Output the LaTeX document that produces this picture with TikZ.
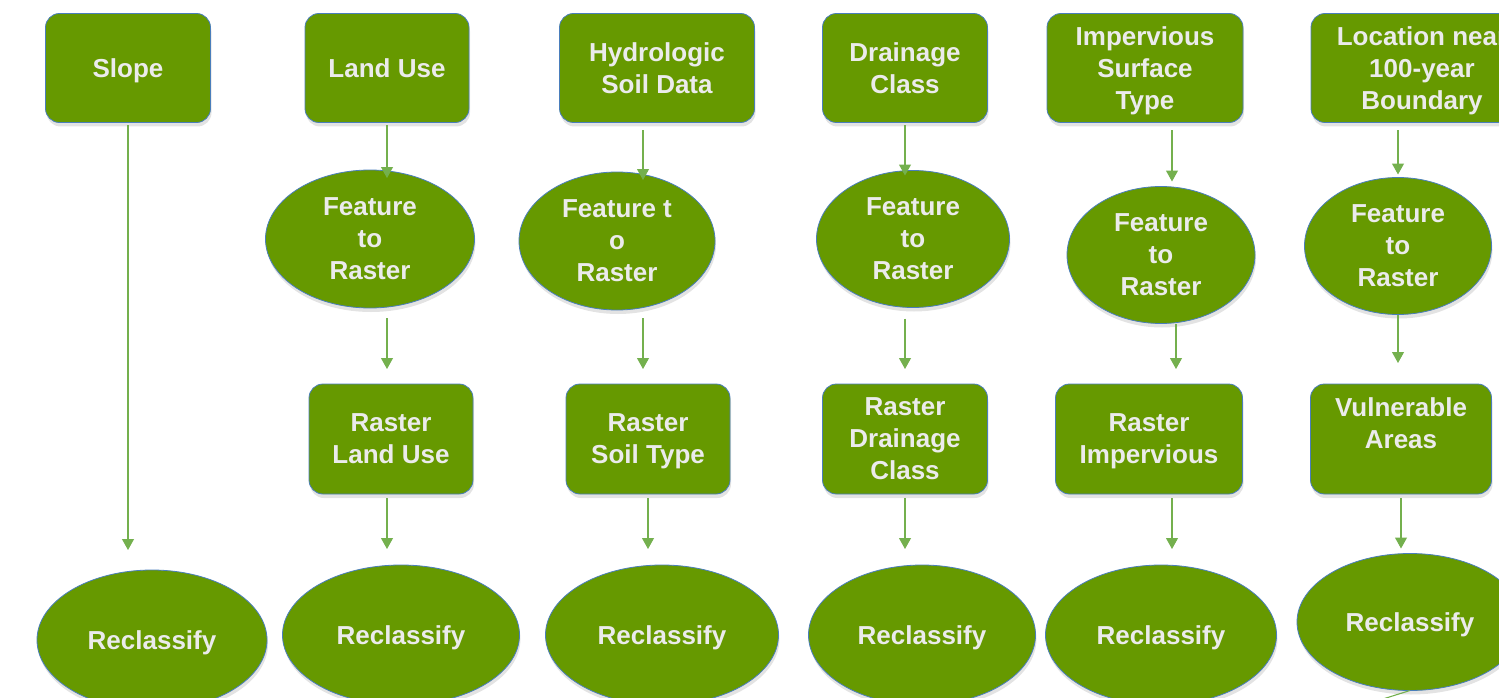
\documentclass[tikz,border=0pt]{standalone}
\usepackage{fontspec}
\setmainfont{Liberation Sans}
\usepackage{xcolor}
\usepackage{tikz}
\usetikzlibrary{shapes.geometric,shadows,arrows.meta,calc}

\definecolor{leaf}{HTML}{669900}
\definecolor{rim}{HTML}{4A7EBB}
\definecolor{pale}{HTML}{EBEBEB}
\definecolor{stem}{HTML}{74B04E}

\begin{document}
\begin{tikzpicture}[x=1pt,y=-1pt]
  \tikzstyle{base} = [draw=rim,line width=0.8pt,fill=leaf,inner sep=0pt,outer sep=0pt,align=center,text=pale,
                      font=\fontsize{26}{32}\selectfont\bfseries,text depth=0pt,
                      drop shadow={opacity=0.22,shadow xshift=1pt,shadow yshift=-4pt}]
  \tikzstyle{block} = [base,rounded corners=14pt,minimum height=109pt]
  \tikzstyle{oval} = [base,shape=ellipse]
  \tikzstyle{flow} = [draw=stem,line width=1.1pt,-{Triangle[width=12pt,length=11pt]}]
  %
  \useasboundingbox (0,0) rectangle (1499,698);
  \clip (0,0) rectangle (1499,698);
  % First row: input layers.
  \node[block,minimum width=165pt] (slope) at (128,68) {Slope};
  \node[block,minimum width=164pt] (lu) at (387,68) {Land Use};
  \node[block,minimum width=195pt] (hyd) at (657,68) {Hydrologic\\Soil Data};
  \node[block,minimum width=165pt] (dr) at (905,68) {Drainage\\Class};
  \node[block,minimum width=196pt] (imp) at (1145,68) {Impervious\\Surface\\Type};
  \node[block,minimum width=222pt] (loc) at (1422,68) {Location near\\100-year\\Boundary};
  % Second row: conversions.
  \node[oval,minimum width=209pt,minimum height=138pt] (luf) at (370,239) {Feature\\to\\Raster};
  \node[oval,minimum width=196pt,minimum height=138pt] (hyf) at (617,241) {Feature t\\o\\Raster};
  \node[oval,minimum width=193pt,minimum height=137pt] (drf) at (913,239) {Feature\\to\\Raster};
  \node[oval,minimum width=188pt,minimum height=137pt] (imf) at (1161,255) {Feature\\to\\Raster};
  \node[oval,minimum width=187pt,minimum height=137pt] (lof) at (1398,246) {Feature\\to\\Raster};
  % Third row: rasters.
  \node[block,minimum width=164pt,minimum height=110pt] (rlu) at (391,439) {Raster\\Land Use};
  \node[block,minimum width=164pt,minimum height=110pt] (rsoil) at (648,439) {Raster\\Soil Type};
  \node[block,minimum width=165pt,minimum height=110pt] (rdr) at (905,439) {Raster\\Drainage\\Class};
  \node[block,minimum width=187pt,minimum height=110pt] (rimp) at (1149,439) {Raster\\Impervious};
  \node[block,minimum width=181pt,minimum height=110pt] (vul) at (1401,439) {Vulnerable\\Areas\\\phantom{A}};
  % Fourth row: reclassify.
  \node[oval,minimum width=230pt,minimum height=140pt] (rc1) at (152,640) {Reclassify};
  \node[oval,minimum width=237pt,minimum height=140pt] (rc2) at (401,635) {Reclassify};
  \node[oval,minimum width=233pt,minimum height=140pt] (rc3) at (662,635) {Reclassify};
  \node[oval,minimum width=227pt,minimum height=140pt] (rc4) at (922,635) {Reclassify};
  \node[oval,minimum width=231pt,minimum height=140pt] (rc5) at (1161,635) {Reclassify};
  \node[oval,minimum width=226pt,minimum height=137pt] (rc6) at (1410,622) {Reclassify};
  % Arrow columns.
  \coordinate (hx) at (643,0);
  \coordinate (ix) at (1172,0);
  \coordinate (ix2) at (1176,0);
  \coordinate (off) at (1300,725);
  % Slope.
  \draw[flow,shorten <=3pt,shorten >=20pt] (slope.south) -- (slope.south |- rc1.north);
  % Land use.
  \draw[flow,shorten <=3pt,shorten >=-8pt] (lu.south) -- (lu.south |- luf.north);
  \draw[flow,shorten <=10pt,shorten >=15pt] (lu.south |- luf.south) -- (lu.south |- rlu.north);
  \draw[flow,shorten <=4pt,shorten >=16pt] (lu.south |- rlu.south) -- (lu.south |- rc2.north);
  % Soil.
  \draw[flow,shorten <=8pt,shorten >=-8pt] (hx |- hyd.south) -- (hx |- hyf.north);
  \draw[flow,shorten <=8pt,shorten >=15pt] (hx |- hyf.south) -- (hx |- rsoil.north);
  \draw[flow,shorten <=4pt,shorten >=16pt] (rsoil.south) -- (rsoil.south |- rc3.north);
  % Drainage.
  \draw[flow,shorten <=3pt,shorten >=-5pt] (dr.south) -- (dr.south |- drf.north);
  \draw[flow,shorten <=11pt,shorten >=15pt] (dr.south |- drf.south) -- (rdr.north);
  \draw[flow,shorten <=4pt,shorten >=16pt] (rdr.south) -- (rdr.south |- rc4.north);
  % Impervious.
  \draw[flow,shorten <=8pt,shorten >=5pt] (ix |- imp.south) -- (ix |- imf.north);
  \draw[flow,shorten >=15pt] (ix2 |- imf.south) -- (ix2 |- rimp.north);
  \draw[flow,shorten <=4pt,shorten >=16pt] (ix |- rimp.south) -- (ix |- rc5.north);
  % Floodplain.
  \draw[flow,shorten <=8pt,shorten >=3pt] (lof.north |- loc.south) -- (lof.north);
  \draw[flow,shorten >=21pt] (lof.south) -- (lof.south |- vul.north);
  \draw[flow,shorten <=4pt,shorten >=5pt] (vul.south) -- (vul.south |- rc6.north);
  \draw[flow] (rc6.south) -- (off);
\end{tikzpicture}
\end{document}
